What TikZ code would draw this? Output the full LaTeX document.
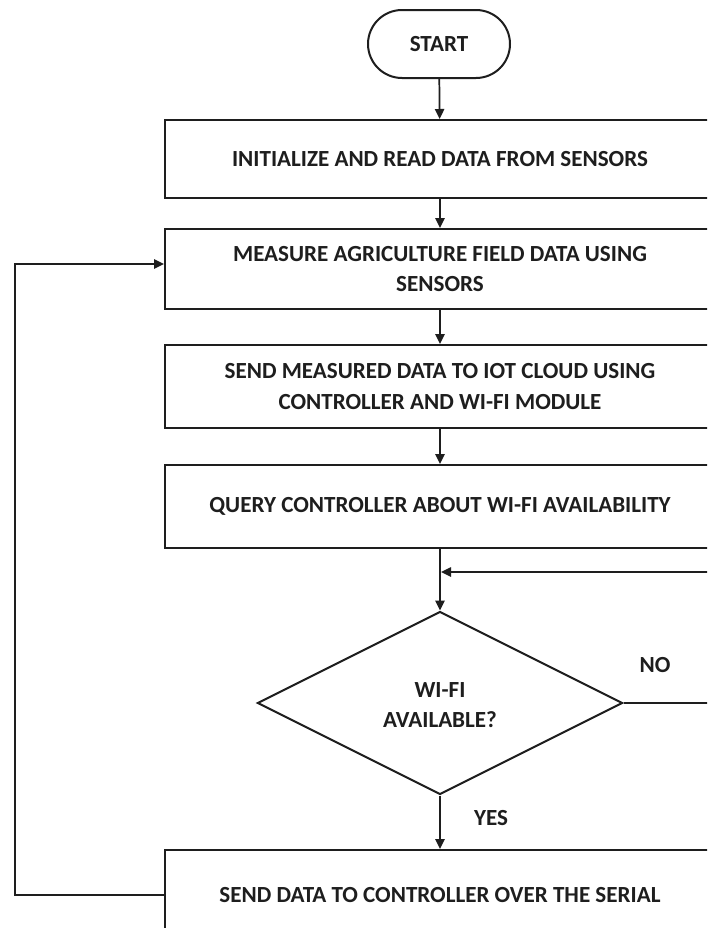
\documentclass[tikz,border=0pt]{standalone}
\usepackage{fontspec}
\setmainfont{Carlito}
\usetikzlibrary{shapes.geometric,shapes.misc,arrows.meta}
\definecolor{ink}{RGB}{30,30,30}
\begin{document}
\begin{tikzpicture}[x=0.75pt,y=-0.75pt,
  every node/.style={text=ink,font=\fontsize{17.3}{23}\selectfont\bfseries},
  stepbox/.style={draw=ink,line width=1.5pt,rectangle,minimum width=412.5pt,inner sep=0pt,align=center},
  term/.style={draw=ink,line width=1.5pt,rounded rectangle,minimum width=106.5pt,minimum height=51pt,inner sep=0pt},
  decide/.style={draw=ink,line width=1.5pt,diamond,minimum width=273.75pt,minimum height=137.25pt,inner sep=0pt,align=center},
  arr/.style={draw=ink,line width=1.3pt,-{Triangle[length=7.5pt,width=7pt]}},
  ln/.style={draw=ink,line width=1.3pt},
  lbl/.style={inner sep=0pt,align=center}]
\useasboundingbox (0,0) rectangle (707,928);
\clip (0,0) rectangle (707,928);
\fill[white] (0,0) rectangle (707,928);

\node[term] (start) at (439,44) {START};
\node[stepbox,minimum height=58.5pt] (b1) at (440,159) {INITIALIZE AND READ DATA FROM SENSORS};
\node[stepbox,minimum height=60pt] (b2) at (440,269) {MEASURE AGRICULTURE FIELD DATA USING\\SENSORS};
\node[stepbox,minimum height=62.25pt] (b3) at (440,386.5) {SEND MEASURED DATA TO IOT CLOUD USING\\CONTROLLER AND WI-FI MODULE};
\node[stepbox,minimum height=62.25pt] (b4) at (440,506.5) {QUERY CONTROLLER ABOUT WI-FI AVAILABILITY};
\node[decide] (d) at (440,703) {};
\node[lbl] (dt) at (440,705) {WI-FI\\AVAILABLE?};
\node[stepbox,minimum height=67.5pt] (b5) at (440,895) {SEND DATA TO CONTROLLER OVER THE SERIAL};

\node[lbl] (no) at (655,665) {NO};
\node[lbl] (yes) at (491,818) {YES};

\coordinate (r1) at (720,572);
\coordinate (r2) at (720,703);
\coordinate (lp) at (15,0);

\draw[arr] (start) -- (b1);
\draw[arr] (b1) -- (b2);
\draw[arr] (b2) -- (b3);
\draw[arr] (b3) -- (b4);
\draw[arr] (b4) -- (d.north);
\draw[arr] (r1) -- ([xshift=0.8pt]b4.south |- r1);
\draw[ln] (d.east) -- (r2);
\draw[arr] (d.south) -- (b5.north);
\draw[arr] (b5.west) -- (b5.west -| lp) |- ([yshift=3.75pt]b2.west);
\end{tikzpicture}
\end{document}
